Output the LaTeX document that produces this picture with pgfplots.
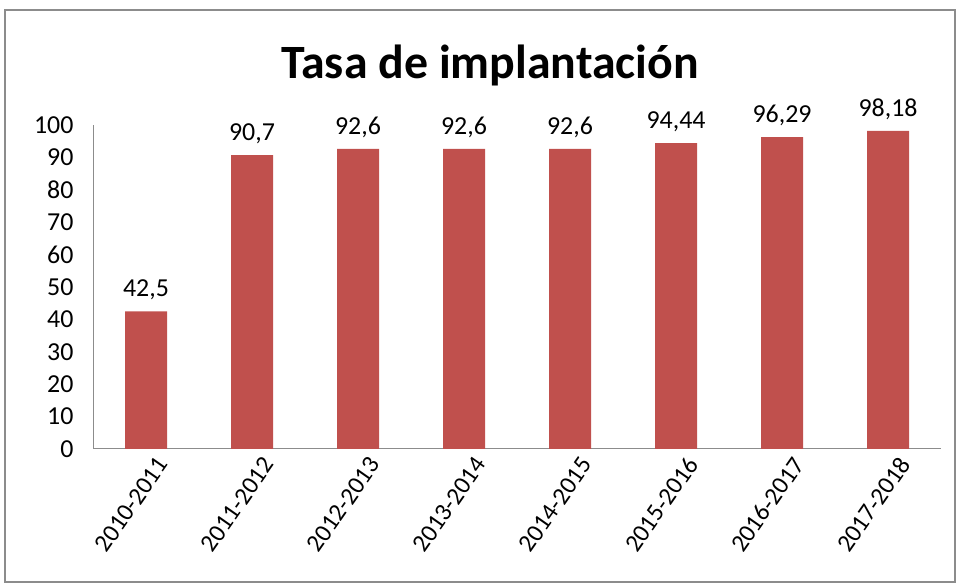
\documentclass[border=0pt]{standalone}
\usepackage{pgfplots}
\pgfplotsset{compat=1.18}
\usepackage{fontspec}
\setmainfont{Carlito}
\definecolor{barred}{HTML}{C0504D}
\definecolor{axgray}{HTML}{8C8C8C}
\begin{document}
\begin{tikzpicture}[x=1bp,y=1bp]
\path[use as bounding box] (0,0) rectangle (958,584);
\draw[axgray, line width=1.5bp] (5,2) rectangle (955,574);
\node[font=\bfseries\fontsize{48}{52}\selectfont, anchor=base] at (490,505) {Tasa de implantación};
\begin{axis}[
  at={(93bp,135bp)}, anchor=south west,
  scale only axis, width=848bp, height=324bp,
  xmin=-0.5, xmax=7.5, ymin=0, ymax=100,
  ybar, bar width=42bp,
  axis x line*=bottom, axis y line*=left,
  axis line style={axgray, line width=1bp},
  ytick={0,10,...,100}, xtick={0,...,7},
  xticklabels={2010-2011,2011-2012,2012-2013,2013-2014,2014-2015,2015-2016,2016-2017,2017-2018},
  major tick length=0pt,
  yticklabel style={font=\fontsize{26}{30}\selectfont, text=black, xshift=-16bp},
  xticklabel style={font=\fontsize{25}{28}\selectfont, text=black, rotate=55, anchor=east, xshift=4bp, yshift=-20bp},
  /pgf/number format/assume math mode=true,
  /pgf/number format/use comma,
  /pgf/number format/precision=2,
  nodes near coords,
  nodes near coords style={font=\fontsize{26}{30}\selectfont, text=black, yshift=8bp},
  every node near coord/.append style={/pgf/number format/use comma, /pgf/number format/precision=2, /pgf/number format/assume math mode=true},
  clip=false,
]
\addplot[fill=barred, draw=none] coordinates {(0,42.5) (1,90.7) (2,92.6) (3,92.6) (4,92.6) (5,94.44) (6,96.29) (7,98.18)};
\end{axis}
\end{tikzpicture}
\end{document}
